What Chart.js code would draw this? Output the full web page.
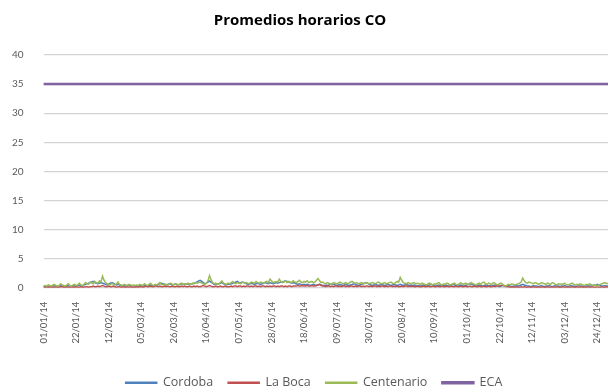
<!DOCTYPE html>
<html>
<head>
<meta charset="utf-8">
<script src="https://cdn.jsdelivr.net/npm/chart.js@4"></script>
<style>
  html, body { margin:0; padding:0; background:#fff; }
  #wrap { width:608px; height:387px; }
</style>
</head>
<body>
<div id="wrap"><canvas id="coChart" width="608" height="387"></canvas></div>
<script>
// ---- data (ppm, promedio diario) ----
const tickLabels = ['01/01/14','22/01/14','12/02/14','05/03/14','26/03/14','16/04/14','07/05/14','28/05/14','18/06/14',
  '09/07/14','30/07/14','20/08/14','10/09/14','01/10/14','22/10/14','12/11/14','03/12/14','24/12/14'];
const TICK_STEP = 21;
const ECA_LIMIT = 35;

const cordoba = [
  0.2,0.3,0.2,0.3,0.3,0.2,0.3,0.4,0.3,0.2,0.3,0.4,0.3,0.3,0.2,0.3,0.4,0.3,0.2,0.3,0.4,0.3,0.4,0.5,0.4,0.3,0.5,0.6,0.7,0.8,0.9,
  1.0,1.1,0.9,0.8,0.7,0.8,0.9,0.8,0.7,0.6,0.5,0.6,0.8,0.9,0.8,0.6,0.5,0.6,0.5,0.4,0.3,0.4,0.3,0.4,0.5,0.4,0.3,0.4,
  0.3,0.4,0.3,0.4,0.4,0.3,0.5,0.4,0.3,0.4,0.5,0.4,0.3,0.5,0.4,0.6,0.7,0.8,0.7,0.6,0.5,0.6,0.7,0.6,0.5,0.6,0.7,0.6,0.5,0.6,0.7,
  0.6,0.7,0.6,0.7,0.6,0.6,0.7,0.8,0.9,1.0,1.2,1.3,1.1,0.9,0.7,0.8,1.0,1.2,1.0,0.8,0.6,0.7,0.6,0.7,0.8,0.9,0.7,0.6,0.5,0.6,
  0.6,0.7,0.8,0.9,1.0,1.1,0.9,0.8,1.0,0.9,0.8,0.7,0.6,0.7,0.8,0.7,0.6,0.7,0.8,0.7,0.6,0.7,0.8,0.9,0.8,0.7,0.9,0.8,0.7,0.8,0.9,
  0.8,0.9,1.0,1.0,1.1,1.2,1.1,1.0,0.9,0.8,0.9,0.8,0.7,0.6,0.7,0.6,0.5,0.6,0.5,0.6,0.5,0.4,0.5,0.6,0.5,0.4,0.5,0.6,0.5,0.4,
  0.4,0.5,0.4,0.5,0.6,0.7,0.6,0.5,0.4,0.5,0.6,0.5,0.4,0.5,0.6,0.5,0.4,0.5,0.6,0.7,0.6,0.5,0.4,0.5,0.6,0.7,0.8,0.9,0.8,0.6,0.5,
  0.4,0.5,0.6,0.5,0.4,0.5,0.6,0.5,0.4,0.5,0.6,0.5,0.4,0.5,0.6,0.5,0.4,0.5,0.6,0.5,0.4,0.5,0.6,0.5,0.4,0.5,0.4,0.5,0.4,0.3,0.4,
  0.3,0.4,0.5,0.4,0.3,0.4,0.5,0.6,0.5,0.4,0.3,0.4,0.5,0.4,0.3,0.4,0.5,0.4,0.3,0.4,0.5,0.6,0.5,0.4,0.3,0.4,0.5,0.4,0.3,0.4,
  0.5,0.6,0.7,0.6,0.5,0.4,0.3,0.4,0.5,0.4,0.3,0.4,0.5,0.4,0.3,0.4,0.3,0.4,0.5,0.4,0.3,0.2,0.3,0.4,0.3,0.2,0.3,0.4,0.3,0.2,0.3,
  0.3,0.4,0.3,0.4,0.5,0.6,0.5,0.4,0.3,0.3,0.2,0.3,0.4,0.3,0.3,0.2,0.3,0.4,0.3,0.2,0.3,0.3,0.4,0.3,0.2,0.3,0.4,0.3,0.3,0.2,
  0.3,0.3,0.4,0.3,0.2,0.3,0.4,0.3,0.3,0.2,0.3,0.4,0.3,0.3,0.2,0.3,0.3,0.4,0.3,0.3,0.4,0.5,0.4,0.6,0.5,0.4,0.3,0.3,0.4,0.3,0.3
];

const laBoca = [
  0.1,0.1,0.2,0.1,0.1,0.2,0.1,0.1,0.2,0.1,0.1,0.2,0.2,0.1,0.1,0.2,0.1,0.1,0.2,0.1,0.1,0.2,0.1,0.1,0.2,0.1,0.1,0.2,0.2,0.1,0.2,
  0.2,0.3,0.2,0.2,0.3,0.2,0.3,0.4,0.3,0.2,0.2,0.3,0.2,0.2,0.3,0.2,0.1,0.2,0.2,0.1,0.2,0.1,0.1,0.2,0.1,0.2,0.1,0.1,
  0.1,0.2,0.1,0.2,0.2,0.1,0.2,0.3,0.2,0.2,0.3,0.2,0.2,0.3,0.3,0.2,0.3,0.2,0.2,0.3,0.2,0.3,0.2,0.2,0.3,0.2,0.2,0.3,0.2,0.2,0.3,
  0.2,0.3,0.2,0.2,0.3,0.2,0.2,0.3,0.2,0.3,0.2,0.2,0.3,0.4,0.3,0.2,0.3,0.4,0.3,0.2,0.2,0.3,0.2,0.2,0.3,0.2,0.2,0.3,0.2,0.2,
  0.2,0.3,0.2,0.3,0.3,0.2,0.3,0.3,0.2,0.3,0.2,0.3,0.3,0.2,0.3,0.2,0.3,0.3,0.2,0.3,0.2,0.3,0.3,0.2,0.3,0.2,0.3,0.2,0.3,0.3,0.2,
  0.3,0.2,0.3,0.3,0.2,0.3,0.2,0.3,0.3,0.2,0.3,0.3,0.3,0.4,0.3,0.3,0.4,0.3,0.3,0.4,0.3,0.3,0.4,0.3,0.3,0.4,0.5,0.6,0.4,0.3,
  0.3,0.2,0.3,0.3,0.2,0.3,0.2,0.3,0.3,0.2,0.3,0.2,0.3,0.3,0.2,0.3,0.2,0.3,0.3,0.2,0.3,0.2,0.3,0.3,0.2,0.3,0.2,0.3,0.3,0.2,0.3,
  0.2,0.3,0.3,0.2,0.3,0.2,0.3,0.3,0.2,0.3,0.2,0.3,0.3,0.2,0.3,0.2,0.3,0.2,0.2,0.3,0.2,0.3,0.3,0.2,0.3,0.2,0.3,0.2,0.2,0.3,0.2,
  0.2,0.2,0.3,0.2,0.2,0.3,0.2,0.2,0.3,0.2,0.2,0.3,0.2,0.2,0.3,0.2,0.2,0.3,0.2,0.2,0.3,0.2,0.2,0.3,0.2,0.2,0.3,0.2,0.2,0.3,
  0.2,0.2,0.3,0.2,0.2,0.3,0.2,0.2,0.3,0.2,0.2,0.3,0.2,0.2,0.3,0.2,0.2,0.3,0.2,0.3,0.4,0.3,0.4,0.5,0.4,0.3,0.2,0.2,0.1,0.2,0.1,
  0.1,0.2,0.1,0.1,0.2,0.1,0.2,0.1,0.1,0.2,0.1,0.1,0.2,0.1,0.1,0.2,0.1,0.1,0.2,0.1,0.1,0.2,0.1,0.1,0.2,0.1,0.1,0.2,0.1,0.1,
  0.1,0.2,0.1,0.1,0.2,0.1,0.1,0.2,0.1,0.1,0.2,0.1,0.1,0.2,0.1,0.1,0.1,0.2,0.1,0.1,0.2,0.1,0.1,0.2,0.1,0.1,0.2,0.1,0.1,0.2,0.1
];

const centenario = [
  0.3,0.4,0.3,0.5,0.4,0.3,0.5,0.6,0.4,0.3,0.4,0.7,0.5,0.4,0.3,0.5,0.7,0.4,0.3,0.5,0.6,0.4,0.5,0.8,0.5,0.4,0.6,0.9,0.7,0.6,1.0,
  0.8,0.7,1.1,0.9,0.8,1.2,1.0,2.0,1.3,0.9,0.7,0.6,0.5,0.8,0.6,0.5,0.7,1.0,0.6,0.5,0.4,0.6,0.5,0.4,0.6,0.5,0.4,0.5,
  0.4,0.5,0.4,0.6,0.5,0.4,0.7,0.5,0.4,0.6,0.8,0.5,0.4,0.6,0.5,0.7,0.9,0.6,0.5,0.7,0.6,0.5,0.6,0.8,0.6,0.5,0.7,0.6,0.5,0.7,0.8,
  0.6,0.7,0.6,0.8,0.7,0.6,0.8,0.7,0.9,0.8,0.9,1.0,0.8,0.7,0.6,0.8,1.2,2.1,1.4,0.9,0.7,0.8,0.6,0.7,0.9,1.2,0.8,0.7,0.6,0.8,
  0.7,0.9,1.1,0.8,0.7,0.9,0.8,0.7,0.9,1.0,0.8,0.9,0.7,0.8,1.0,0.9,0.8,1.1,0.9,0.8,1.0,0.9,0.8,1.0,1.1,0.9,1.5,1.2,0.9,1.0,1.1,
  1.0,1.5,1.1,0.9,1.0,1.2,0.9,1.1,1.0,0.9,1.2,1.0,0.9,1.1,1.3,1.0,0.9,1.1,1.0,1.2,0.9,1.0,1.1,0.9,1.0,1.3,1.6,1.2,0.9,1.0,
  0.8,0.7,0.9,0.8,0.6,0.7,0.9,0.8,0.7,0.8,1.0,0.9,0.7,0.8,0.9,0.7,0.8,1.0,1.1,0.9,0.8,0.9,0.7,0.8,0.9,0.8,0.7,0.9,0.8,0.7,0.8,
  0.9,0.8,0.7,0.9,1.0,0.8,0.7,0.8,0.9,0.7,0.8,0.9,1.0,0.8,0.7,0.9,1.1,1.0,1.8,1.3,0.9,0.8,0.7,0.9,0.8,0.7,0.8,0.9,0.7,0.8,0.7,
  0.6,0.8,0.7,0.6,0.5,0.7,0.8,0.6,0.5,0.7,0.6,0.8,0.9,0.6,0.5,0.7,0.6,0.8,0.7,0.5,0.6,0.7,0.8,0.6,0.5,0.7,0.9,0.7,0.6,0.8,
  0.7,0.6,0.8,0.9,0.7,0.6,0.5,0.7,0.8,0.6,0.9,1.0,0.7,0.6,0.8,0.7,0.6,0.9,0.8,0.6,0.5,0.7,0.8,0.6,0.4,0.3,0.5,0.6,0.5,0.7,0.6,
  0.5,0.6,0.7,0.8,1.0,1.7,1.2,0.9,0.8,1.0,0.9,0.8,0.7,0.9,0.8,0.6,0.7,0.9,0.8,0.7,0.6,0.8,0.7,0.6,0.9,0.8,0.6,0.5,0.7,0.6,
  0.7,0.6,0.8,0.6,0.5,0.6,0.7,0.8,0.6,0.5,0.6,0.5,0.7,0.6,0.5,0.4,0.6,0.5,0.7,0.6,0.4,0.5,0.4,0.3,0.5,0.6,0.7,0.8,0.9,0.7,0.8
];

// one category per day of 2014
const days = [];
for (let d = new Date(2014, 0, 1); d.getFullYear() === 2014; d.setDate(d.getDate() + 1)) {
  days.push(String(d.getDate()).padStart(2,'0') + '/' + String(d.getMonth()+1).padStart(2,'0') + '/14');
}
const eca = days.map(() => ECA_LIMIT);

const FONT = 'Lato, "Open Sans", sans-serif';
const TXT = '#595959';

function ds(label, data, color, width, order) {
  return { label, data, borderColor:color, backgroundColor:color, borderWidth:width,
           pointRadius:0, pointHoverRadius:0, tension:0, fill:false, order };
}

// legend sits a bit right of centre in the original
const legendShift = { id:'legendShift', afterLayout(chart) { chart.legend.left += 14; chart.legend.right += 14; } };

new Chart(document.getElementById('coChart'), {
  type:'line',
  data:{ labels:days, datasets:[
    ds('Cordoba',    cordoba,    '#4f81bd', 1.5, 4),
    ds('La Boca',    laBoca,     '#c0504d', 1.5, 3),
    ds('Centenario', centenario, '#9bbb59', 1.5, 2),
    ds('ECA',        eca,        '#8064a2', 2.5, 1),
  ]},
  options:{
    responsive:false, animation:false,
    layout:{ padding:{ left:-8, right:0, top:8, bottom:-12 } },
    plugins:{
      title:{ display:true, text:'Promedios horarios CO', color:'#000',
              font:{ family:'"Open Sans", sans-serif', size:15, weight:'bold' }, padding:{ top:4, bottom:25 } },
      legend:{ position:'bottom', labels:{ color:TXT, font:{ family:'"Open Sans", sans-serif', size:12.5 },
               boxWidth:31, boxHeight:1, padding:15, sort:(a,b)=>a.datasetIndex-b.datasetIndex } },
      tooltip:{ enabled:false },
    },
    scales:{
      x:{ grid:{ display:false }, border:{ display:false },
          afterFit:s => { s.paddingLeft = 0; s.paddingRight = 0; s.height += 12; },
          ticks:{ autoSkip:false, maxRotation:90, minRotation:90, color:TXT, font:{ family:FONT, size:9.5 }, padding:6,
                  callback:(v,i)=> i % TICK_STEP === 0 ? tickLabels[i / TICK_STEP] : null } },
      y:{ min:0, max:40, border:{ display:false },
          grid:{ color:'#d4d4d4', lineWidth:1.2, drawTicks:false },
          ticks:{ stepSize:5, color:TXT, font:{ family:FONT, size:10 }, padding:20 } },
    },
  },
  plugins:[legendShift],
});
</script>
</body>
</html>
